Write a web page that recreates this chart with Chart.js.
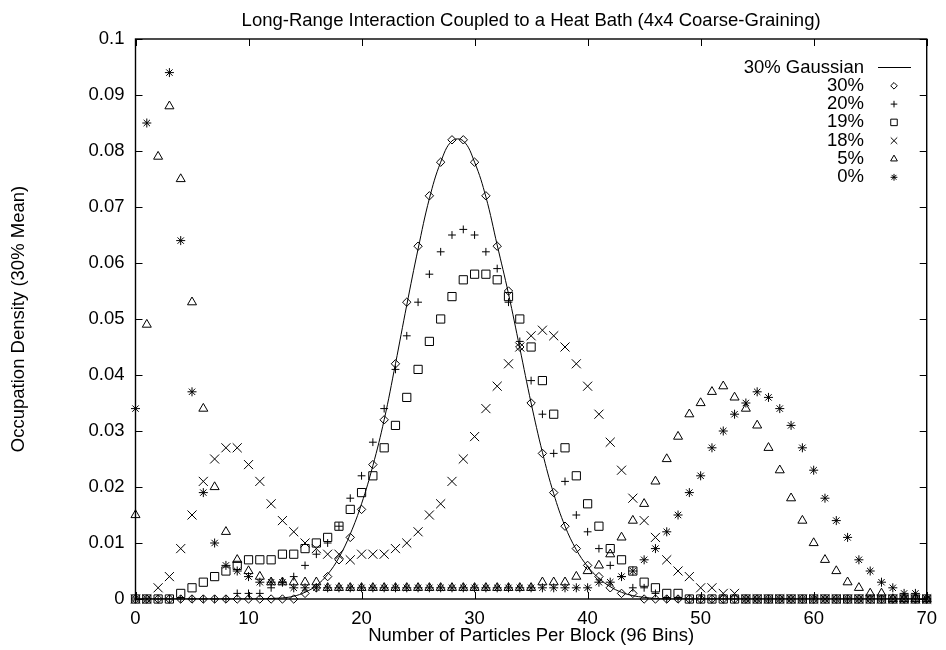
<!DOCTYPE html>
<html>
<head>
<meta charset="utf-8">
<title>Long-Range Interaction Coupled to a Heat Bath</title>
<script src="https://cdn.jsdelivr.net/npm/chart.js@4.4.1/dist/chart.umd.min.js"></script>
<style>
  html, body { margin: 0; padding: 0; background: #fff; }
  #wrap { width: 946px; height: 650px; }
</style>
</head>
<body>
<div id="wrap"><canvas id="chart" width="946" height="650"></canvas></div>
<script>
// Particles per block (x positions of every bin)
const particles = [
  0, 1, 2, 3, 4, 5, 6, 7, 8, 9,
  10, 11, 12, 13, 14, 15, 16, 17, 18, 19,
  20, 21, 22, 23, 24, 25, 26, 27, 28, 29,
  30, 31, 32, 33, 34, 35, 36, 37, 38, 39,
  40, 41, 42, 43, 44, 45, 46, 47, 48, 49,
  50, 51, 52, 53, 54, 55, 56, 57, 58, 59,
  60, 61, 62, 63, 64, 65, 66, 67, 68, 69,
  70
];

// Fitted curve
const gauss30 = [
  0, 0, 0, 0, 0, 0, 0, 0, 0, 0,
  0, 0, .0001, .0002, .0005, .0012, .0024, .0044, .0074, .0116,
  .017, .0238, .032, .042, .0525, .0625, .0715, .078, .0818, .0818,
  .078, .0718, .0632, .0545, .0448, .035, .0262, .0188, .013, .0088,
  .0058, .0037, .0022, .0012, .0006, .0003, .0001, 0, 0, 0,
  0, 0, 0, 0, 0, 0, 0, 0, 0, 0,
  0, 0, 0, 0, 0, 0, 0, 0, 0, 0,
  0
];

const dens30 = [
  0, 0, 0, 0, 0, 0, 0, 0, 0, 0,
  0, 0, 0, 0, 0, .001, .002, .004, .007, .011,
  .016, .024, .032, .042, .053, .063, .072, .078, .082, .082,
  .078, .072, .063, .055, .045, .035, .026, .019, .013, .009,
  .006, .004, .002, .001, .001, 0, 0, 0, 0, 0,
  0, 0, 0, 0, 0, 0, 0, 0, 0, 0,
  0, 0, 0, 0, 0, 0, 0, 0, 0, 0,
  0
];

const dens20 = [
  0, 0, 0, 0, 0, 0, 0, 0, 0, .001,
  .001, .001, .002, .003, .004, .006, .008, .010, .013, .018,
  .022, .028, .034, .041, .047, .053, .058, .062, .065, .066,
  .065, .062, .059, .053, .046, .039, .033, .026, .021, .015,
  .012, .009, .006, .004, .002, .002, .001, 0, 0, 0,
  0, 0, 0, 0, 0, 0, 0, 0, 0, 0,
  0, 0, 0, 0, 0, 0, 0, 0, 0, 0,
  0
];

const dens19 = [
  0, 0, 0, 0, .001, .002, .003, .004, .005, .006,
  .007, .007, .007, .008, .008, .009, .010, .011, .013, .016,
  .019, .022, .027, .031, .036, .041, .046, .050, .054, .057,
  .058, .058, .057, .054, .050, .045, .039, .033, .027, .022,
  .017, .013, .009, .007, .005, .003, .002, .001, .001, 0,
  0, 0, 0, 0, 0, 0, 0, 0, 0, 0,
  0, 0, 0, 0, 0, 0, 0, 0, 0, 0,
  0
];

const dens18 = [
  0, 0, .002, .004, .009, .015, .021, .025, .027, .027,
  .024, .021, .017, .014, .012, .010, .009, .008, .008, .007,
  .008, .008, .008, .009, .010, .012, .015, .017, .021, .025,
  .029, .034, .038, .042, .045, .047, .048, .047, .045, .042,
  .038, .033, .028, .023, .018, .014, .011, .007, .005, .004,
  .002, .002, .001, .001, 0, 0, 0, 0, 0, 0,
  0, 0, 0, 0, 0, 0, 0, 0, 0, 0,
  0
];

const dens5 = [
  .015, .049, .079, .088, .075, .053, .034, .020, .012, .007,
  .005, .004, .003, .003, .003, .003, .003, .002, .002, .002,
  .002, .002, .002, .002, .002, .002, .002, .002, .002, .002,
  .002, .002, .002, .002, .002, .002, .003, .003, .003, .004,
  .005, .006, .008, .011, .014, .017, .021, .025, .029, .033,
  .035, .037, .038, .036, .034, .031, .027, .023, .018, .014,
  .010, .007, .005, .003, .002, .001, .001, 0, 0, 0,
  0
];

const dens0 = [
  .034, .085, null, .094, .064, .037, .019, .010, .006, .005,
  .004, .003, .003, .003, .002, .002, .002, .002, .002, .002,
  .002, .002, .002, .002, .002, .002, .002, .002, .002, .002,
  .002, .002, .002, .002, .002, .002, .002, .002, .002, .002,
  .002, .003, .003, .004, .005, .007, .009, .012, .015, .019,
  .022, .027, .030, .033, .035, .037, .036, .034, .031, .027,
  .023, .018, .014, .011, .007, .005, .003, .002, .001, .001,
  0
];

const xTickValues = [0, 10, 20, 30, 40, 50, 60, 70];
const xTickLabels = ['0', '10', '20', '30', '40', '50', '60', '70'];
const yTickValues = [0, 0.01, 0.02, 0.03, 0.04, 0.05, 0.06, 0.07, 0.08, 0.09, 0.1];
const yTickLabels = ['0', '0.01', '0.02', '0.03', '0.04', '0.05', '0.06', '0.07', '0.08', '0.09', '0.1'];

const FONT = "'Liberation Sans', Arial, Helvetica, sans-serif";
const FONT_SIZE = 18.5;

function points(values) {
  return particles.map((x, i) => ({ x: x, y: values[i] }));
}

function markers(label, values, style, radius, legendRadius) {
  return {
    label: label,
    data: points(values),
    showLine: false,
    pointStyle: style,
    pointRadius: radius,
    pointHoverRadius: radius,
    pointBorderWidth: 1,
    borderColor: '#000',
    backgroundColor: 'rgba(0,0,0,0)',
    legendRadius: legendRadius,
    clip: false
  };
}

// Title, inward ticks on all four sides and the frame
const framePlugin = {
  id: 'frame',
  afterDraw(chart) {
    const { ctx, chartArea: a, scales: { x, y } } = chart;
    ctx.save();
    ctx.strokeStyle = '#000';
    ctx.lineWidth = 1;
    ctx.beginPath();
    xTickValues.forEach(v => {
      const px = Math.round(x.getPixelForValue(v)) + 0.5;
      ctx.moveTo(px, a.bottom); ctx.lineTo(px, a.bottom - 7);
      ctx.moveTo(px, a.top); ctx.lineTo(px, a.top + 7);
    });
    yTickValues.forEach(v => {
      const py = Math.round(y.getPixelForValue(v)) + 0.5;
      ctx.moveTo(a.left, py); ctx.lineTo(a.left + 7, py);
      ctx.moveTo(a.right, py); ctx.lineTo(a.right - 7, py);
    });
    ctx.stroke();
    ctx.lineWidth = 1.4;
    ctx.strokeRect(a.left, a.top, a.right - a.left, a.bottom - a.top);

    ctx.fillStyle = '#000';
    ctx.font = FONT_SIZE + 'px ' + FONT;
    ctx.textAlign = 'center';
    ctx.textBaseline = 'middle';
    ctx.fillText('Long-Range Interaction Coupled to a Heat Bath (4x4 Coarse-Graining)',
      (a.left + a.right) / 2, 21);
    ctx.restore();
  }
};

// Key in the top right corner: text right aligned, sample on the right
const keyPlugin = {
  id: 'key',
  afterDraw(chart) {
    const { ctx } = chart;
    const textRight = 864, sampleX = 894, rowTop = 67.5, rowStep = 18.3;
    ctx.save();
    ctx.font = FONT_SIZE + 'px ' + FONT;
    ctx.strokeStyle = '#000';
    ctx.textAlign = 'right';
    ctx.textBaseline = 'middle';
    chart.data.datasets.forEach((ds, i) => {
      const yy = rowTop + i * rowStep;
      ctx.fillStyle = '#000';
      ctx.fillText(ds.label, textRight, yy);
      ctx.lineWidth = 1;
      if (ds.showLine) {
        ctx.beginPath();
        ctx.moveTo(878, yy);
        ctx.lineTo(911, yy);
        ctx.stroke();
      } else {
        ctx.fillStyle = 'rgba(0,0,0,0)';
        Chart.helpers.drawPoint(ctx, {
          pointStyle: ds.pointStyle, radius: ds.legendRadius, rotation: 0, borderWidth: 1
        }, sampleX, yy);
      }
    });
    ctx.restore();
  }
};

const ctx = document.getElementById('chart').getContext('2d');
new Chart(ctx, {
  type: 'scatter',
  data: {
    datasets: [
      {
        label: '30% Gaussian',
        data: points(gauss30),
        showLine: true,
        tension: 0.4,
        borderColor: '#000',
        borderWidth: 1,
        pointRadius: 0,
        pointHoverRadius: 0,
        fill: false
      },
      markers('30%', dens30, 'rectRot', 4.2, 3.3),
      markers('20%', dens20, 'cross', 3.9, 3.3),
      markers('19%', dens19, 'rect', 5.8, 4.6),
      markers('18%', dens18, 'crossRot', 6.4, 4.6),
      markers('5%', dens5, 'triangle', 5.2, 3.9),
      markers('0%', dens0, 'star', 4.5, 3.4)
    ]
  },
  options: {
    responsive: false,
    animation: false,
    devicePixelRatio: 1,
    layout: { padding: { top: 39, right: 15.5, left: 0, bottom: 0 } },
    plugins: {
      legend: { display: false },
      title: { display: false },
      tooltip: { enabled: false }
    },
    scales: {
      x: {
        type: 'linear',
        min: 0,
        max: 70,
        grid: { display: false, drawTicks: false },
        border: { display: false },
        ticks: {
          stepSize: 10,
          autoSkip: false,
          maxRotation: 0,
          padding: 9,
          color: '#000',
          font: { family: FONT, size: FONT_SIZE },
          callback: (v) => {
            const k = xTickValues.indexOf(v);
            return k >= 0 ? xTickLabels[k] : '';
          }
        },
        title: {
          display: true,
          text: 'Number of Particles Per Block (96 Bins)',
          color: '#000',
          font: { family: FONT, size: FONT_SIZE },
          padding: { top: 0, bottom: 3 }
        },
        afterFit: (scale) => { scale.height = 51; }
      },
      y: {
        type: 'linear',
        min: 0,
        max: 0.1,
        grid: { display: false, drawTicks: false },
        border: { display: false },
        ticks: {
          stepSize: 0.01,
          autoSkip: false,
          padding: 11,
          color: '#000',
          font: { family: FONT, size: FONT_SIZE },
          callback: (v, i) => yTickLabels[i]
        },
        title: {
          display: true,
          text: 'Occupation Density (30% Mean)',
          color: '#000',
          font: { family: FONT, size: FONT_SIZE },
          padding: { top: 8, bottom: 0 }
        },
        afterFit: (scale) => { scale.width = 135.5; }
      }
    }
  },
  plugins: [framePlugin, keyPlugin]
});
</script>
</body>
</html>
